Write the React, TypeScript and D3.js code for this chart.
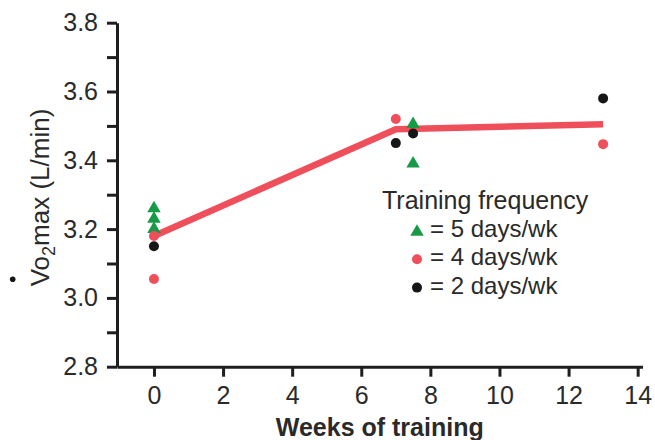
import React, { useRef, useEffect } from "react"
import * as d3 from "d3"

const chart_width = 655
const chart_height = 440

// series
const weeks5 = [0, 0, 0, 7.5, 7.5]
const vo2_5 = [3.26, 3.23, 3.2, 3.505, 3.39]
const weeks4 = [0, 0, 7, 13]
const vo2_4 = [3.18, 3.055, 3.52, 3.447]
const weeks2 = [0, 7, 7.5, 13]
const vo2_2 = [3.15, 3.45, 3.478, 3.58]
const fitWeeks = [0, 7, 13]
const fitVo2 = [3.18, 3.49, 3.505]

const xTicks = [0, 2, 4, 6, 8, 10, 12, 14]
const yTicks = [2.8, 2.9, 3.0, 3.1, 3.2, 3.3, 3.4, 3.5, 3.6, 3.7, 3.8]
const legendLabels = ["= 5 days/wk", "= 4 days/wk", "= 2 days/wk"]

const RED = "#ef4f5b"
const GREEN = "#179a45"
const BLACK = "#161616"
const AXIS = "#1e1e1e"
const FONT = "'Liberation Sans', Arial, Helvetica, sans-serif"

const App = () => {
  const ref = useRef(null)

  useEffect(() => {
    const svg = d3.select(ref.current)
    svg.selectAll("*").remove()

    const x = d3.scaleLinear().domain([-1.07, 14.14]).range([117, 642.5])
    const y = d3.scaleLinear().domain([2.8, 3.8]).range([366.7, 22.7])

    // axes
    const xAxis = d3
      .axisBottom(x)
      .tickValues(xTicks)
      .tickSize(10)
      .tickSizeOuter(0)
      .tickPadding(10)
      .tickFormat(d3.format("d"))
    const yAxis = d3
      .axisLeft(y)
      .tickValues(yTicks)
      .tickSize(10)
      .tickSizeOuter(0)
      .tickPadding(9)
      .tickFormat(d => (Math.round(+d * 10) % 2 === 0 ? d3.format(".1f")(+d) : ""))

    const gx = svg
      .append("g")
      .attr("transform", "translate(0," + y(2.8) + ")")
      .call(xAxis)
    const gy = svg.append("g").attr("transform", "translate(" + x(-1.07) + ",0)").call(yAxis)

    ;[gx, gy].forEach(g => {
      g.select(".domain").attr("stroke", AXIS).attr("stroke-width", 3)
      g.selectAll(".tick line").attr("stroke", AXIS).attr("stroke-width", 3)
      g.selectAll(".tick text")
        .attr("fill", "#2a2a2a")
        .style("font-family", FONT)
        .style("font-size", "25px")
    })

    // axis titles
    svg
      .append("text")
      .attr("x", (117 + 642.5) / 2)
      .attr("y", 435.6)
      .attr("text-anchor", "middle")
      .attr("fill", "#2a2a2a")
      .style("font-family", FONT)
      .style("font-size", "25px")
      .style("font-weight", "bold")
      .text("Weeks of training")

    const yl = svg
      .append("text")
      .attr("transform", "translate(49,197.5) rotate(-90)")
      .attr("text-anchor", "middle")
      .attr("fill", "#2a2a2a")
      .style("font-family", FONT)
      .style("font-size", "26px")
    yl.append("tspan").text("Vo")
    yl.append("tspan").attr("dy", 6).style("font-size", "18px").text("2")
    yl.append("tspan").attr("dy", -6).text("max (L/min)")
    svg.append("circle").attr("cx", 12.7).attr("cy", 279.3).attr("r", 2.8).attr("fill", BLACK)

    // fitted line
    const line = d3
      .line<number>()
      .x((d, i) => x(fitWeeks[i]))
      .y(d => y(d))
    svg
      .append("path")
      .attr("d", line(fitVo2))
      .attr("fill", "none")
      .attr("stroke", RED)
      .attr("stroke-width", 6.5)
      .attr("stroke-linejoin", "round")

    const tri = d3.symbol().type(d3.symbolTriangle).size(78)

    svg
      .selectAll(".t5")
      .data(vo2_5)
      .enter()
      .append("path")
      .attr("d", tri)
      .attr("transform", (d, i) => "translate(" + x(weeks5[i]) + "," + y(d) + ")")
      .attr("fill", GREEN)

    svg
      .selectAll(".c4")
      .data(vo2_4)
      .enter()
      .append("circle")
      .attr("cx", (d, i) => x(weeks4[i]))
      .attr("cy", d => y(d))
      .attr("r", 5)
      .attr("fill", RED)

    svg
      .selectAll(".c2")
      .data(vo2_2)
      .enter()
      .append("circle")
      .attr("cx", (d, i) => x(weeks2[i]))
      .attr("cy", d => y(d))
      .attr("r", 5)
      .attr("fill", BLACK)

    // legend
    const lg = svg.append("g")
    lg.append("text")
      .attr("x", 382)
      .attr("y", 208.5)
      .attr("fill", "#2a2a2a")
      .style("font-family", FONT)
      .style("font-size", "25px")
      .text("Training frequency")

    legendLabels.forEach((label, i) => {
      const base = 237 + i * 28.3
      if (i === 0) {
        lg.append("path")
          .attr("d", tri)
          .attr("transform", "translate(417," + (base - 5) + ")")
          .attr("fill", GREEN)
      } else {
        lg.append("circle")
          .attr("cx", 417)
          .attr("cy", base - 6)
          .attr("r", 5)
          .attr("fill", i === 1 ? RED : BLACK)
      }
      lg.append("text")
        .attr("x", 430)
        .attr("y", base)
        .attr("fill", "#2a2a2a")
        .style("font-family", FONT)
        .style("font-size", "24px")
        .text(label)
    })
  }, [])

  return (
    <div style={{ position: "absolute", left: 0, top: 0 }}>
      <svg ref={ref} width={chart_width} height={chart_height} style={{ display: "block", background: "#fff" }} />
    </div>
  )
}

export default App
